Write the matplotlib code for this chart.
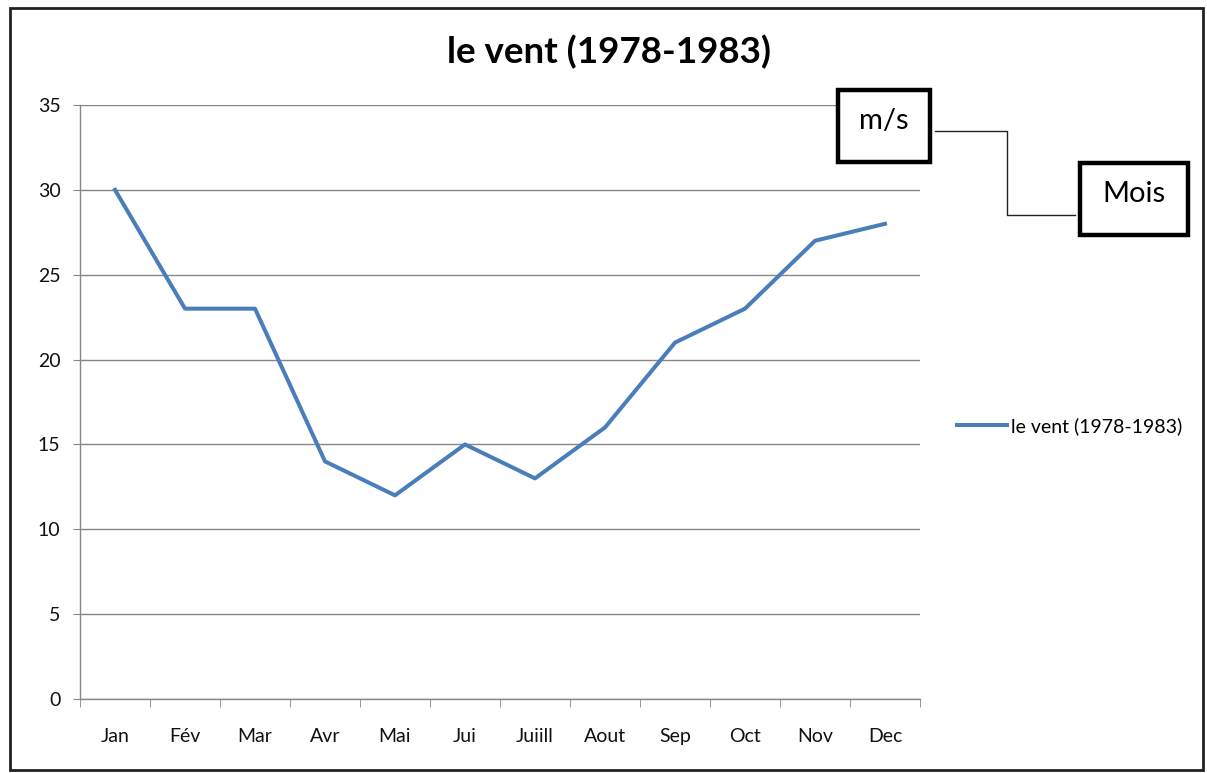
import matplotlib.pyplot as plt
from matplotlib.patches import Rectangle
from matplotlib.lines import Line2D

plt.rcParams['font.family'] = ['Lato', 'DejaVu Sans']

# données
mois = ["Jan", "Fév", "Mar", "Avr", "Mai", "Jui", "Juiill", "Aout", "Sep", "Oct", "Nov", "Dec"]
vent = [30, 23, 23, 14, 12, 15, 13, 16, 21, 23, 27, 28]
serie = "le vent (1978-1983)"

W, H = 1207, 773
fig = plt.figure(figsize=(W / 100, H / 100), dpi=100)

# zone du graphique en pixels : x 80..920, y 105..699
ax = fig.add_axes([80 / W, 1 - 699 / H, 840 / W, 594 / H])
x = list(range(len(mois)))
ax.plot(x, vent, color='#4A7EBB', lw=2.9, solid_joinstyle='round', label=serie)

ax.set_xlim(-0.5, len(mois) - 0.5)
ax.set_ylim(0, 35)
ax.set_yticks(range(0, 36, 5))
ax.set_xticks(x)
ax.set_xticklabels(mois)
ax.set_xticks([i - 0.5 for i in range(len(mois) + 1)], minor=True)
ax.tick_params(axis='x', which='major', length=0, pad=21, labelsize=14, colors='#111111')
ax.tick_params(axis='x', which='minor', length=6, color='#868686', direction='out')
ax.tick_params(axis='y', length=5, color='#868686', labelsize=14, pad=9, labelcolor='#111111')
ax.grid(True, axis='y', color='#868686', lw=1)
ax.set_axisbelow(True)
for s in ['top', 'right']:
    ax.spines[s].set_visible(False)
for s in ['left', 'bottom']:
    ax.spines[s].set_color('#868686')
    ax.spines[s].set_linewidth(1)

fig.text(609 / W, 1 - 52 / H, serie, ha='center', va='center', fontsize=26.5, fontweight='bold')

# légende
fig.legend(loc='center left', bbox_to_anchor=(947 / W, 1 - 426 / H), frameon=False,
           fontsize=14, handlelength=2.6, handletextpad=0.2, borderpad=0)

# cadre extérieur
fig.patches.append(Rectangle((10 / W, 1 - 770 / H), 1193 / W, 762 / H, transform=fig.transFigure,
                             fill=False, ec='#222222', lw=2))

# connecteur entre les boîtes
fig.lines.append(Line2D(
    [935 / W, 1007 / W, 1007 / W, 1075 / W],
    [1 - 131 / H, 1 - 131 / H, 1 - 215 / H, 1 - 215 / H],
    transform=fig.transFigure, color='#222222', lw=1))

# boîtes m/s et Mois
for (x0, y0, x1, y1, txt) in [(838, 90, 930, 162, "m/s"), (1080, 163, 1188, 235, "Mois")]:
    fig.patches.append(Rectangle((x0 / W, 1 - y1 / H), (x1 - x0) / W, (y1 - y0) / H,
                                 transform=fig.transFigure, fc='white', ec='black', lw=3.2, zorder=3))
    fig.text((x0 + x1) / 2 / W, 1 - ((y0 + y1) / 2 - 5) / H, txt, ha='center', va='center',
             fontsize=21, zorder=4)

fig.savefig("out.png", dpi=100)
